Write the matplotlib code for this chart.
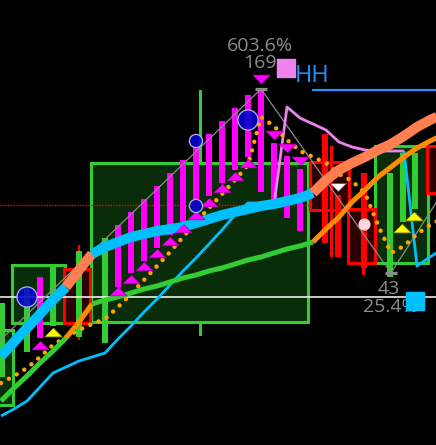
import matplotlib.pyplot as plt
from matplotlib.patches import Rectangle

# candle index 0..34 (the last one sits just past the right edge),
# prices on a screen-row scale (0 = top of chart)
idx = list(range(35))

trend_ma = [356, 342, 328, 314, 300, 287, 270, 254, 247, 242, 237, 234, 231, 229,
            227, 223, 219, 215, 212, 209, 206, 204, 201, 198, 193, 180, 170, 163,
            157, 150, 144, 136, 127, 120, 114]
slow_ma = [401, 388, 376, 363, 351, 338, 322, 304, 300, 297, 293, 289, 286, 282,
           278, 275, 271, 268, 264, 260, 257, 253, 249, 246, 242, 229, 217, 202,
           190, 177, 167, 157, 148, 141, 135]
ma_regime = [0] * 5 + [1] * 2 + [0] * 17 + [1] * 10   # per segment, 1 = bearish

fast_line = [416, 409, 401, 387, 373, 367, 361, 357, 353, 339, 326, 312, 299, 285,
             271, 258, 244, 230, 215, 203, 203, 205, 107, 118, 124, 130, 142, 147,
             150, 151, 151, 151, 266, 257, 249]
fast_regime = [0] * 21 + [1] * 10 + [0] * 3

sar_line = [383, 376, 368, 357, 345, 337, 330, 324, 319, 307, 294, 280, 266, 252,
            237, 222, 208, 194, 180, 165, 117, 126, 140, 151, 157, 163, 174, 181,
            193, 225, 253, 246, 234, 225, 218]

# candle bodies
mag_x = [3, 9, 10, 11, 12, 13, 14, 15, 16, 17, 18, 19, 20, 21, 22, 23]
mag_top = [277, 225, 212, 199, 186, 173, 160, 147, 134, 121, 108, 95, 89, 143, 156, 169]
mag_bot = [338, 287, 273, 261, 248, 235, 222, 200, 196, 183, 170, 157, 192, 202, 218, 231]
grn_x = [0.05, 2, 4, 6, 8, 29.9, 30.9, 31.85]
grn_top = [303, 287, 264, 251, 238, 173, 153, 153]
grn_bot = [377, 352, 326, 337, 343, 277, 222, 209]
red_x = [24.9, 25.9, 27.9]
red_top = [134, 195, 173]
red_bot = [243, 257, 268]
wick_x = [6, 25.4, 27.9]
wick_top = [245, 146, 268]
wick_bot = [340, 257, 275]

# signal markers
up_x = [3, 9, 10, 11, 12, 13, 14, 15, 16, 17, 18, 19]
up_y = [345, 291, 279, 266, 253, 241, 228, 215, 202, 188, 176, 163]
dn_x = [20, 21, 22, 23]
dn_y = [79, 135, 148, 161]
yel_x = [4, 30.85, 31.8]
yel_y = [332, 228, 216]
dot_x = [2, 15, 15, 19]
dot_y = [297, 141, 206, 120]
dot_size = [210, 90, 90, 210]

# range boxes: (start, end, top, bottom)
green_boxes = [(-0.6, 0.92, 330, 405), (0.85, 4.92, 265, 323),
               (6.92, 23.6, 163, 322), (28.77, 32.85, 146, 263)]
red_boxes = [(4.85, 6.85, 269, 323), (23.77, 26.77, 162, 210),
             (26.7, 28.77, 209, 263), (32.77, 34.0, 146, 193)]

zz_x = [-1, 20, 30, 33.6]
zz_y = [352, 89, 273, 200]

UP_TRI = [(-1, -0.5), (1, -0.5), (0, 0.5)]
DN_TRI = [(-1, 0.5), (1, 0.5), (0, -0.5)]
FONT = ['Open Sans', 'DejaVu Sans']


def draw_regime(ax, xs, ys, regime, colors, lw, z):
    start = 0
    for i in range(1, len(regime) + 1):
        if i == len(regime) or regime[i] != regime[start]:
            ax.plot(xs[start:i + 1], ys[start:i + 1], color=colors[regime[start]],
                    lw=lw, zorder=z, solid_capstyle='butt', solid_joinstyle='round')
            start = i


fig = plt.figure(figsize=(4.36, 4.45), dpi=100, facecolor='black')
ax = fig.add_axes([0, 0, 1, 1])
ax.set_xlim(-1 / 13, 435 / 13)
ax.set_ylim(445, 0)
ax.axis('off')

# hidden wick behind the big box
ax.bar(15.38, 336 - 90, bottom=90, width=0.23, color='#32cd32', zorder=1)

for x0, x1, top, bot in green_boxes:
    ax.add_patch(Rectangle((x0, top), x1 - x0, bot - top, facecolor='#082d08',
                           edgecolor='#32cd32', lw=2.2, zorder=2))
for x0, x1, top, bot in red_boxes:
    ax.add_patch(Rectangle((x0, top), x1 - x0, bot - top, facecolor='#2d0000',
                           edgecolor='#ff0000', lw=2.2, zorder=2))

ax.hlines(205, -1, 24.0, color='#ff0000', lw=1.0, linestyles=(0, (1, 1)), zorder=3)

ax.bar(wick_x, [b - t for t, b in zip(wick_top, wick_bot)], bottom=wick_top,
       width=0.22, color='#ff0000', zorder=3)
ax.bar(mag_x, [b - t for t, b in zip(mag_top, mag_bot)], bottom=mag_top,
       width=0.44, color='#ff00ff', zorder=3.1)
ax.bar(grn_x, [b - t for t, b in zip(grn_top, grn_bot)], bottom=grn_top,
       width=0.44, color='#32cd32', zorder=3.1)
ax.bar(red_x, [b - t for t, b in zip(red_top, red_bot)], bottom=red_top,
       width=0.44, color='#ff0000', zorder=3.1)

ax.axhline(297, color='white', lw=1.1, zorder=3.5)

ax.plot(zz_x, zz_y, color='#8a8a8a', lw=0.9, zorder=4)
ax.hlines([89, 273], [19.55, 29.55], [20.45, 30.45], color='#8a8a8a', lw=2.3, zorder=4)

draw_regime(ax, idx, fast_line, fast_regime, ['#00bfff', '#ee82ee'], 2.0, 4.2)
ax.plot(idx, sar_line, color='#ffa500', lw=3.2, ls=(0, (0.01, 2.0)),
        dash_capstyle='round', zorder=4.5)
draw_regime(ax, idx, slow_ma, ma_regime, ['#32cd32', '#ff8c00'], 3.6, 5)
draw_regime(ax, idx, trend_ma, ma_regime, ['#00bfff', '#ff7f50'], 7.2, 5.5)

ax.scatter(up_x, up_y, s=150, marker=UP_TRI, color='#ff00ff', edgecolors='#b000b0',
           linewidths=0.6, zorder=6)
ax.scatter(dn_x, dn_y, s=160, marker=DN_TRI, color='#ff00ff', edgecolors='#b000b0',
           linewidths=0.6, zorder=6)
ax.scatter(yel_x, yel_y, s=165, marker=UP_TRI, color='#ffff00', edgecolors='#707000',
           linewidths=0.6, zorder=6)
ax.scatter([25.9], [187], s=135, marker=DN_TRI, color='white', edgecolors='#555555',
           linewidths=0.6, zorder=6)
ax.scatter([27.9], [224], s=60, color='#ffd6dc', zorder=6)
ax.scatter(dot_x, dot_y, s=dot_size, color=(0.02, 0.02, 0.82, 0.88),
           edgecolors='#b0b0ff', linewidths=0.9, zorder=6)

# pivot labels
ax.text(19.95, 46, '603.6%', color='#8c8c8c', fontsize=14, family=FONT,
        ha='center', va='center', zorder=7)
ax.text(19.95, 63, '169', color='#8c8c8c', fontsize=14, family=FONT,
        ha='center', va='center', zorder=7)
ax.scatter([21.9], [68], s=170, marker='s', color='#ee82ee', zorder=8)
ax.text(22.6, 76, 'HH', color='#1e90ff', fontsize=17, family=FONT,
        ha='left', va='center', zorder=7)
ax.hlines(90, 23.9, 34, color='#1e90ff', lw=1.6, zorder=7)

ax.text(29.85, 289, '43', color='#8c8c8c', fontsize=14, family=FONT,
        ha='center', va='center', zorder=7)
ax.text(29.95, 307, '25.4%', color='#8c8c8c', fontsize=14, family=FONT,
        ha='center', va='center', zorder=7)
ax.scatter([31.85], [301], s=170, marker='s', color='#00bfff', zorder=8)

plt.savefig('out.png', dpi=100, facecolor='black')
